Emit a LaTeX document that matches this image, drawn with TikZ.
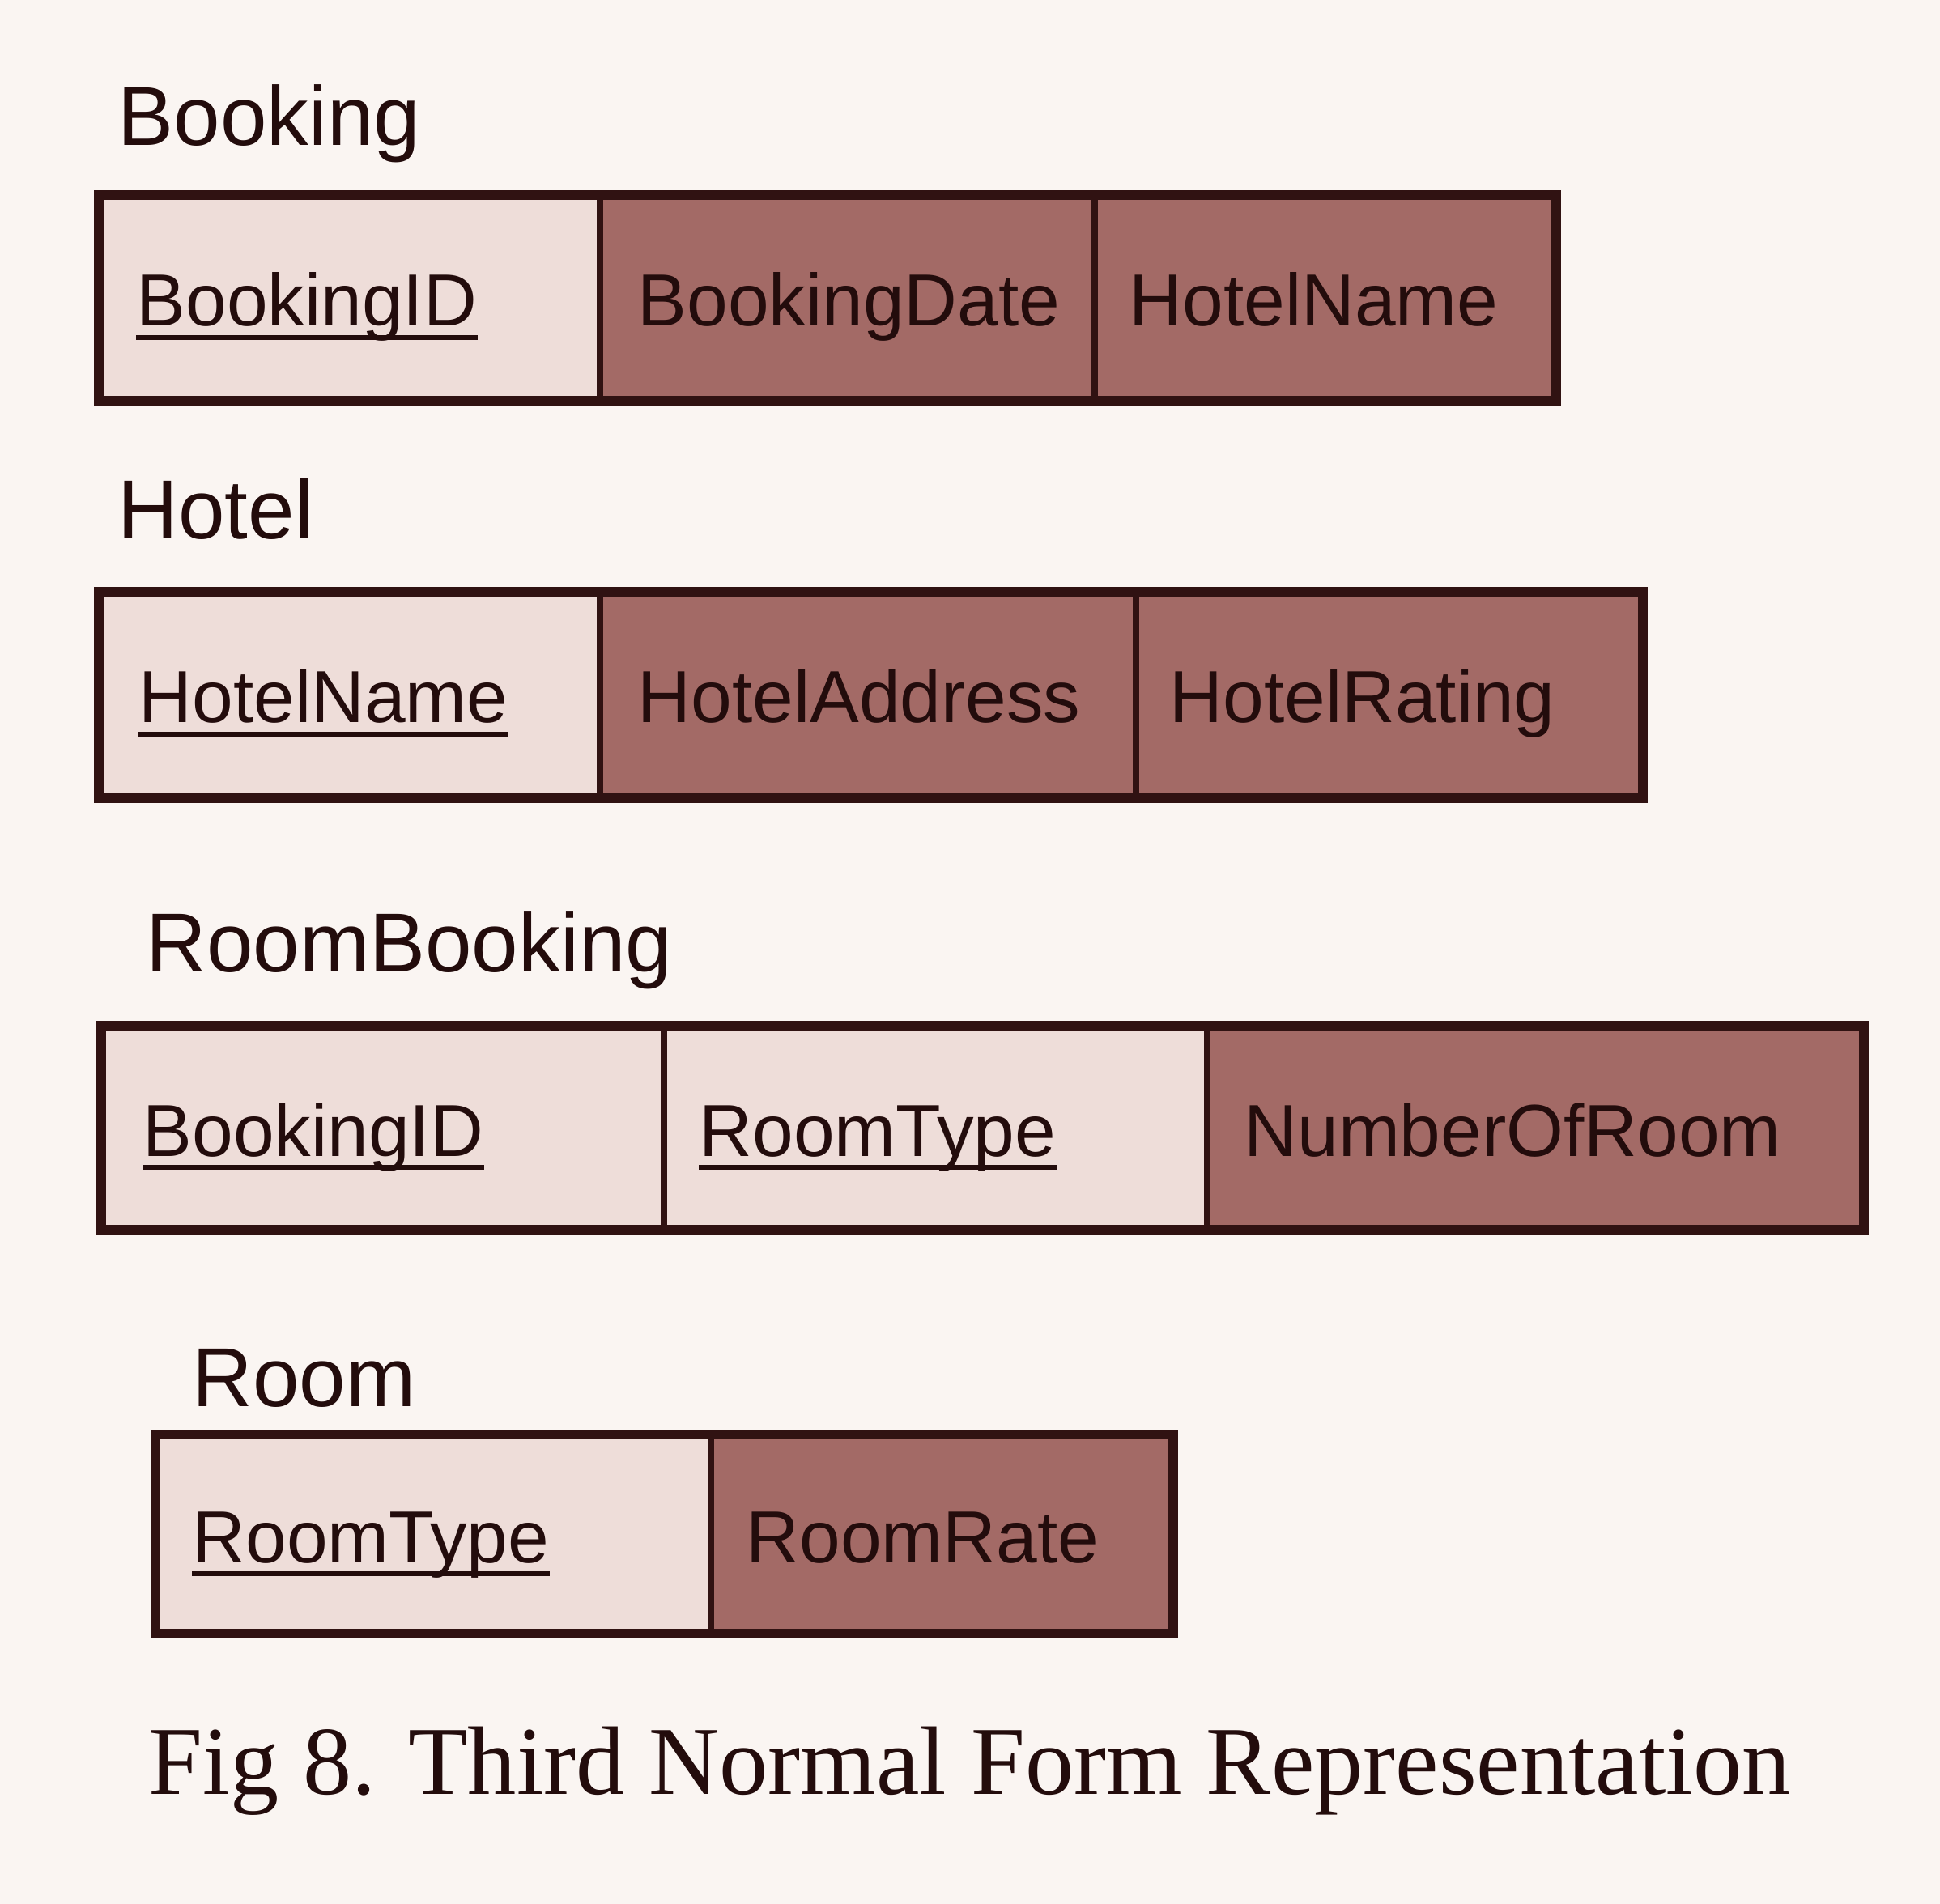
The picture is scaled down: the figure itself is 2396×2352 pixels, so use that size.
\documentclass[tikz,border=0pt]{standalone}
\usepackage{fontspec}
\setmainfont{Liberation Sans}
\newfontfamily\capfont{Liberation Serif}
\usepackage{tikz}
\definecolor{paper}{RGB}{250,245,242}
\definecolor{keycell}{RGB}{238,221,217}
\definecolor{attrcell}{RGB}{163,106,102}
\definecolor{ink}{RGB}{35,12,12}
\definecolor{rim}{RGB}{48,18,18}
\tikzset{
  tablename/.style={anchor=base west,inner sep=0pt,text=ink,font=\fontsize{29.4}{34}\selectfont},
  attrtext/.style={anchor=base west,inner sep=0pt,text=ink,font=\fontsize{25.9}{30}\selectfont},
  keyline/.style={draw=ink,line width=1.6pt},
  outer/.style={draw=rim,line width=3.4pt},
  divider/.style={draw=rim,line width=2pt},
}
\newcommand{\keyline}[1]{\draw[keyline] ([yshift=-4pt]#1.base west) -- ([yshift=-4pt]#1.base east);}

\begin{document}
\begin{tikzpicture}[x=0.01cm,y=-0.01cm]
\fill[paper] (0,0) rectangle (2396,2352);
\useasboundingbox (0,0) rectangle (2396,2352);
% Booking relation
\begin{scope}
\fill[keycell] (122,241) rectangle (741,495);
\fill[attrcell] (741,241) rectangle (1922,495);
\draw[divider] (741,241) -- (741,495);
\draw[divider] (1352,241) -- (1352,495);
\draw[outer] (122,241) rectangle (1922,495);
\node[tablename] (booking) at (145,180) {Booking};
\node[attrtext] (bkid) at (168,403) {BookingID};
\node[attrtext] (bkdate) at (787,403) {BookingDate};
\node[attrtext] (bkhotel) at (1394,403) {HotelName};
\keyline{bkid}
\end{scope}
% Hotel relation
\begin{scope}
\fill[keycell] (122,731) rectangle (741,986);
\fill[attrcell] (741,731) rectangle (2029,986);
\draw[divider] (741,731) -- (741,986);
\draw[divider] (1403,731) -- (1403,986);
\draw[outer] (122,731) rectangle (2029,986);
\node[tablename] (hotel) at (145,666) {Hotel};
\node[attrtext] (htname) at (171,893) {HotelName};
\node[attrtext] (htaddr) at (787,893) {HotelAddress};
\node[attrtext] (htrate) at (1444,893) {HotelRating};
\keyline{htname}
\end{scope}
% RoomBooking relation
\begin{scope}
\fill[keycell] (125,1267) rectangle (1491,1519);
\fill[attrcell] (1491,1267) rectangle (2302,1519);
\draw[divider] (820,1267) -- (820,1519);
\draw[divider] (1491,1267) -- (1491,1519);
\draw[outer] (125,1267) rectangle (2302,1519);
\node[tablename] (roombooking) at (180,1200) {RoomBooking};
\node[attrtext] (rbid) at (176,1428) {BookingID};
\node[attrtext] (rbtype) at (863,1428) {RoomType};
\node[attrtext] (rbnum) at (1536,1428) {NumberOfRoom};
\keyline{rbid}
\keyline{rbtype}
\end{scope}
% Room relation
\begin{scope}
\fill[keycell] (192,1772) rectangle (878,2018);
\fill[attrcell] (878,1772) rectangle (1449,2018);
\draw[divider] (878,1772) -- (878,2018);
\draw[outer] (192,1772) rectangle (1449,2018);
\node[tablename] (room) at (237,1737) {Room};
\node[attrtext] (rmtype) at (237,1930) {RoomType};
\node[attrtext] (rmrate) at (921,1930) {RoomRate};
\keyline{rmtype}
\end{scope}
\node[anchor=base west,inner sep=0pt,text=ink,font=\capfont\fontsize{34.2}{40}\selectfont] (caption) at (183,2216) {Fig 8. Third Normal Form Representation};
\end{tikzpicture}
\end{document}
